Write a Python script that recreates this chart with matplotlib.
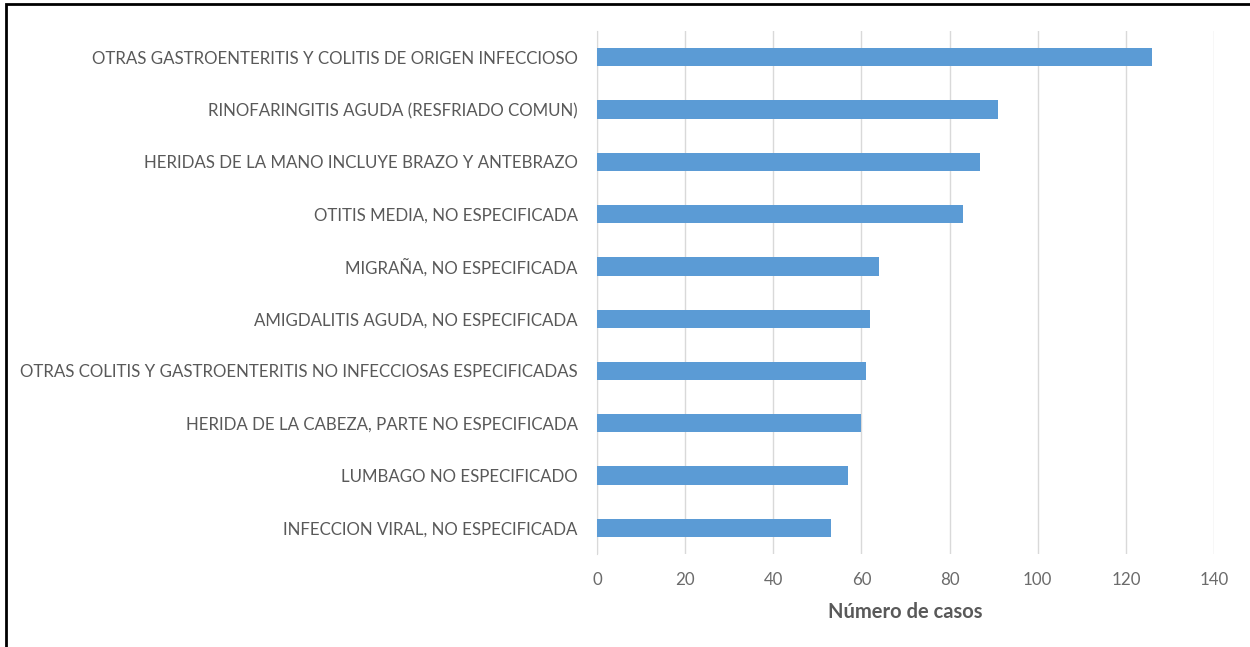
#!/usr/bin/python3
# Casos por diagnóstico: barras horizontales al estilo Excel.

import matplotlib
matplotlib.use("Agg")
import matplotlib.pyplot as plt
from matplotlib.patches import Rectangle

diagnosticos = [
    "OTRAS GASTROENTERITIS Y COLITIS DE ORIGEN INFECCIOSO",
    "RINOFARINGITIS AGUDA (RESFRIADO COMUN)",
    "HERIDAS DE LA MANO INCLUYE BRAZO Y ANTEBRAZO",
    "OTITIS MEDIA, NO ESPECIFICADA",
    "MIGRAÑA, NO ESPECIFICADA",
    "AMIGDALITIS AGUDA, NO ESPECIFICADA",
    "OTRAS COLITIS Y GASTROENTERITIS NO INFECCIOSAS ESPECIFICADAS",
    "HERIDA DE LA CABEZA, PARTE NO ESPECIFICADA",
    "LUMBAGO NO ESPECIFICADO",
    "INFECCION VIRAL, NO ESPECIFICADA",
]
casos = [126, 91, 87, 83, 64, 62, 61, 60, 57, 53]
x_ticks = [0, 20, 40, 60, 80, 100, 120, 140]

_BLUE = "#5B9BD5"
_GREY = "#595959"

plt.rcParams["font.family"] = ["Lato", "DejaVu Sans"]

fig = plt.figure(figsize=(12.5, 6.47), dpi=100)
ax = fig.add_axes([0.4776, 0.1437, 0.4936, 0.8083])

pos = range(len(diagnosticos))
ax.barh(pos, casos, height=0.35, color=_BLUE, zorder=3)
ax.set_ylim(len(diagnosticos) - 0.5, -0.5)
ax.set_xlim(0, 140)
ax.set_yticks(list(pos))
ax.set_yticklabels(diagnosticos, fontsize=12.2, color=_GREY)
ax.set_xticks(x_ticks)
ax.set_xticklabels([str(t) for t in x_ticks], fontsize=12.2, color="#6b6b6b")
ax.tick_params(axis="both", length=0)
ax.tick_params(axis="y", pad=14)
ax.tick_params(axis="x", pad=13)
ax.grid(axis="x", color="#D9D9D9", linewidth=1, zorder=0)
for s in ["top", "right", "bottom"]:
    ax.spines[s].set_visible(False)
ax.spines["left"].set_color("#D9D9D9")
ax.set_xlabel("Número de casos", fontsize=14.5, fontweight="bold", color=_GREY, labelpad=10)

# marco negro recortado (abierto por la derecha y abajo)
fig.add_artist(Rectangle((0.0044, -0.1), 1.2, 1.0938, transform=fig.transFigure,
                         fill=False, edgecolor="black", linewidth=2))

fig.savefig("out.png", dpi=100)
